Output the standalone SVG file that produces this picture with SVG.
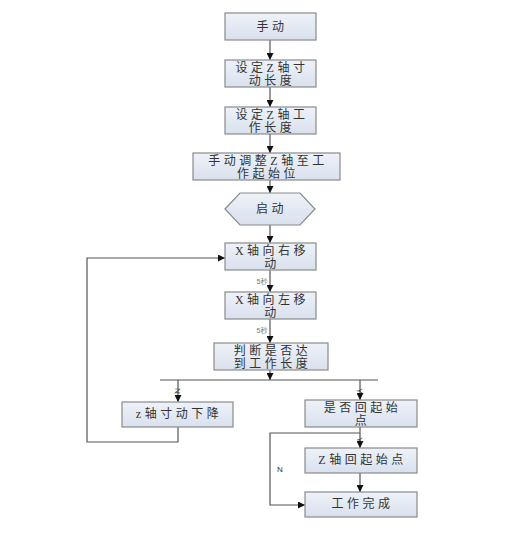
<svg xmlns="http://www.w3.org/2000/svg" width="506" height="540" viewBox="0 0 506 540">
<defs>
<linearGradient id="g" x1="0" y1="0" x2="0" y2="1">
<stop offset="0" stop-color="#eef2f8"/>
<stop offset="1" stop-color="#d9e1ee"/>
</linearGradient>
<marker id="a" viewBox="0 0 10 10" refX="10" refY="5" markerWidth="7" markerHeight="7" orient="auto" markerUnits="userSpaceOnUse">
<path d="M0,0 L10,5 L0,10 z" fill="#111"/>
</marker>
<style>
.b{fill:url(#g);stroke:#8a8a8a;stroke-width:1.2}
.t{font-family:"Liberation Serif","Noto Sans CJK SC",serif;font-size:12px;letter-spacing:3.5px;fill:#333;text-anchor:middle}
.c{fill:none;stroke:#555;stroke-width:1.2}
.ca{fill:none;stroke:#555;stroke-width:1.2;marker-end:url(#a)}
.s{font-family:"Liberation Sans","Noto Sans CJK SC",sans-serif;font-size:7px;fill:#777;text-anchor:middle}
.n{font-family:"Liberation Sans",sans-serif;font-size:8px;fill:#333;text-anchor:middle}
</style>
</defs>
<rect width="506" height="540" fill="#fff"/>
<g id="connectors">
<line class="ca" x1="270" y1="40" x2="270" y2="60"/>
<line class="ca" x1="270" y1="87" x2="270" y2="107"/>
<line class="ca" x1="270" y1="134" x2="270" y2="153"/>
<line class="ca" x1="270" y1="180" x2="270" y2="193"/>
<line class="ca" x1="270" y1="225" x2="270" y2="243"/>
<line class="ca" x1="270" y1="270" x2="270" y2="292"/>
<line class="ca" x1="270" y1="319" x2="270" y2="343"/>
<line class="ca" x1="270" y1="370" x2="270" y2="380"/>
<line class="c" x1="160" y1="380" x2="378" y2="380"/>
<line class="ca" x1="178" y1="380" x2="178" y2="402"/>
<line class="ca" x1="360" y1="380" x2="360" y2="400"/>
<polyline class="ca" points="178,427 178,442 87,442 87,258 225,258"/>
<line class="ca" x1="360" y1="427" x2="360" y2="448"/>
<polyline class="ca" points="360,433 270,433 270,505 305,505"/>
<line class="ca" x1="360" y1="473" x2="360" y2="492"/>
<text class="s" x="262" y="284">5秒</text>
<text class="s" x="262" y="333">5秒</text>
<text class="n" transform="translate(175,391) rotate(90)">N</text>
<text class="n" transform="translate(357,391) rotate(90)">Y</text>
<text class="n" transform="translate(357,440) rotate(90)">Y</text>
<text class="n" x="280" y="472">N</text>
</g>
<g id="n1"><rect class="b" x="225" y="13" width="91" height="27"/><text class="t" x="272" y="31">手动</text></g>
<g id="n2"><rect class="b" x="225" y="60" width="91" height="27"/><text class="t" x="272" y="72">设定Z轴寸</text><text class="t" x="272" y="85">动长度</text></g>
<g id="n3"><rect class="b" x="225" y="107" width="91" height="27"/><text class="t" x="272" y="119">设定Z轴工</text><text class="t" x="272" y="132">作长度</text></g>
<g id="n4"><rect class="b" x="193" y="153" width="147" height="27"/><text class="t" x="268" y="165">手动调整Z轴至工</text><text class="t" x="268" y="178">作起始位</text></g>
<g id="n5"><polygon class="b" points="225,209 240,193 300,193 315,209 300,225 240,225"/><text class="t" x="271.5" y="213">启动</text></g>
<g id="n6"><rect class="b" x="225" y="243" width="91" height="27"/><text class="t" x="272" y="255">X轴向右移</text><text class="t" x="272" y="268">动</text></g>
<g id="n7"><rect class="b" x="225" y="292" width="91" height="27"/><text class="t" x="272" y="304">X轴向左移</text><text class="t" x="272" y="317">动</text></g>
<g id="n8"><rect class="b" x="214" y="343" width="114" height="27"/><text class="t" x="272.5" y="355">判断是否达</text><text class="t" x="272.5" y="368">到工作长度</text></g>
<g id="n9"><rect class="b" x="122" y="402" width="111" height="25"/><text class="t" x="179" y="418">z轴寸动下降</text></g>
<g id="n10"><rect class="b" x="305" y="400" width="112" height="27"/><text class="t" x="362.5" y="412">是否回起始</text><text class="t" x="362.5" y="425">点</text></g>
<g id="n11"><rect class="b" x="305" y="448" width="112" height="25"/><text class="t" x="362.5" y="464">Z轴回起始点</text></g>
<g id="n12"><rect class="b" x="305" y="492" width="112" height="25"/><text class="t" x="362.5" y="508">工作完成</text></g>
</svg>
